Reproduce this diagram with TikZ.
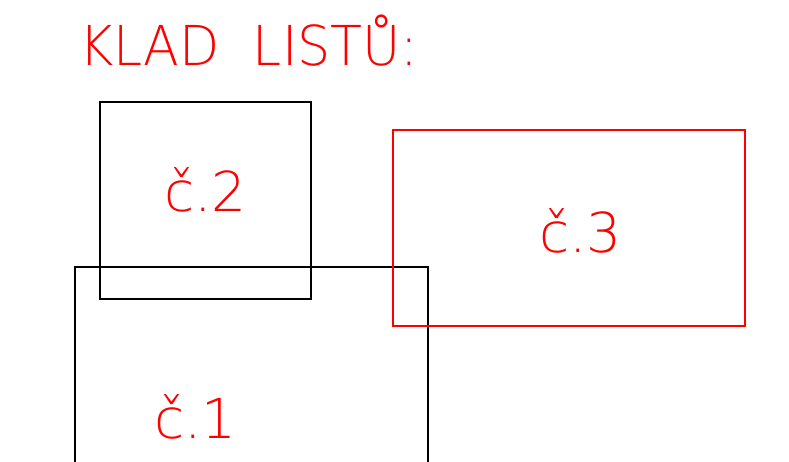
\documentclass[tikz,border=0pt]{standalone}
\usepackage{fontspec}
\setmainfont{DejaVu Sans}[UprightFont=* ExtraLight]
\begin{document}
\begin{tikzpicture}[x=1pt,y=-1pt,
  sheet/.style={draw,line width=1.2pt,inner sep=0pt,outer sep=0pt},
  lbl/.style={text=red,font=\fontsize{55}{55}\selectfont,inner sep=0pt,anchor=base west}]
\useasboundingbox (0,0) rectangle (789,462);
\clip (0,0) rectangle (789,462);
\fill[white] (0,0) rectangle (789,462);
\node[sheet,black,minimum width=353pt,minimum height=220pt,anchor=north west] (s1) at (75,267) {};
\node[sheet,black,minimum width=211pt,minimum height=197pt,anchor=north west] (s2) at (100,102) {};
\node[sheet,red,minimum width=352pt,minimum height=196pt,anchor=north west] (s3) at (393,130) {};
\node[lbl] (title) at (79,66) {\scalebox{0.95}[1]{KLAD\ \ LISTŮ:}};
\node[lbl] (t2) at (164,212) {č.2};
\node[lbl] (t1) at (154,438) {č.1};
\node[lbl] (t3) at (539,253) {č.3};
\end{tikzpicture}
\end{document}
